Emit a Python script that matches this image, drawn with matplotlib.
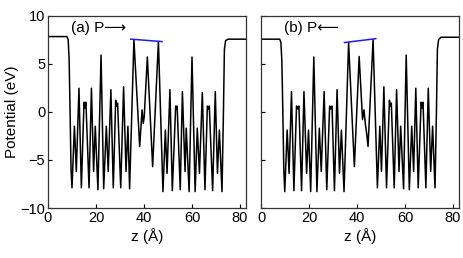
import matplotlib
matplotlib.use("Agg")
import matplotlib.pyplot as plt

plt.rcParams["font.family"] = ["Liberation Sans", "DejaVu Sans"]

# 面板 (a) P→ : z (Å), 势能 (eV)
Z_A = [0, 7.9, 8.4, 8.8, 9.2, 9.6, 10.0, 11.0, 11.8, 12.9, 13.9, 15.0, 15.4, 15.8,
       17.1, 18.1, 19.0, 19.7, 20.8, 22.1, 23.2, 24.3, 25.1, 26.2, 27.2, 28.2, 28.6,
       29.0, 30.3, 31.5, 32.5, 33.3, 34.0, 35.8, 38.2, 39.2, 39.7, 40.1, 41.4, 43.6,
       46.0, 47.9, 48.9, 49.6, 50.8, 51.8, 53.2, 53.5, 53.8, 55.1, 56.0, 57.1, 57.6,
       58.8, 60.0, 61.3, 62.2, 63.1, 64.3, 65.4, 66.4, 66.8, 67.2, 68.6, 69.7, 70.6,
       71.4, 72.5, 73.1, 73.5, 74.0, 75.0, 82.5]
V_A = [7.82, 7.82, 7.5, 5.5, 0, -6, -7.9, -1.5, -6.2, 2.45, -7.9, 1.0, 0.4, 1.0,
       -7.9, 2.45, -6.2, -1.5, -8.1, 5.9, -8.0, -1.5, -6.2, 2.3, -7.9, 1.2, 0.6,
       0.9, -7.9, 2.6, -6.2, -1.5, -8.0, 7.5, -3.6, 0.2, -1.2, -0.5, 5.7, -5.7,
       7.3, -8.3, -1.9, -6.4, 2.3, -8.2, 0.6, 0.3, 0.6, -8.1, 2.1, -6.2, -1.7,
       -8.3, 5.7, -8.3, -1.7, -6.4, 2.0, -8.1, 0.6, 0.3, 0.6, -8.2, 2.1, -6.4,
       -1.9, -8.3, 0, 6.5, 7.4, 7.55, 7.55]

# 面板 (b) P←
Z_B = [0, 7.8, 8.3, 8.7, 9.1, 9.5, 9.9, 10.9, 11.7, 12.7, 13.7, 14.8, 15.3, 15.8,
       16.9, 17.9, 19.0, 19.8, 20.7, 22.0, 23.3, 24.3, 25.1, 26.3, 27.4, 28.6, 29.1,
       29.6, 30.6, 31.7, 32.7, 33.5, 34.6, 36.5, 38.9, 40.9, 42.3, 42.9, 43.5, 44.0,
       44.6, 46.7, 48.5, 49.5, 50.2, 51.2, 52.3, 53.5, 53.9, 54.3, 55.5, 56.5, 57.5,
       58.2, 59.4, 60.5, 61.8, 62.8, 63.6, 64.5, 65.5, 66.7, 67.1, 67.5, 68.7, 69.7,
       70.7, 71.5, 72.5, 73.1, 73.5, 74.0, 75.0, 83.0]
V_B = [7.55, 7.55, 7.2, 5.2, 0, -6, -8.3, -1.9, -6.4, 2.1, -8.2, 0.6, 0.3, 0.6,
       -8.2, 2.1, -6.4, -1.9, -8.3, 5.7, -8.3, -1.7, -6.2, 2.1, -8.1, 0.6, 0.3,
       0.6, -8.2, 2.3, -6.4, -1.9, -8.3, 7.2, -5.7, 5.75, -0.8, 0.2, -1.3, -2.2,
       -3.6, 7.5, -7.9, -1.5, -6.2, 2.6, -7.9, 1.2, 0.6, 0.9, -7.9, 2.3, -6.2,
       -1.5, -8.0, 5.9, -8.1, -1.5, -6.2, 2.45, -7.9, 1.0, 0.4, 1.0, -7.9, 2.45,
       -6.2, -1.5, -7.9, 0, 6.5, 7.5, 7.75, 7.75]

# 蓝色连线(两个高峰顶端)
BLUE_ZA, BLUE_VA = [34.5, 47.5], [7.55, 7.3]
BLUE_ZB, BLUE_VB = [34.8, 47.8], [7.2, 7.6]

LABELS = ["(a) P\u27f6", "(b) P\u27f5"]
XTICKS = [0, 20, 40, 60, 80]
YTICKS = [-10, -5, 0, 5, 10]

fig = plt.figure(figsize=(4.63, 2.58), dpi=100)
ax_a = fig.add_axes([48 / 463, 1 - 208 / 258, 198 / 463, 192.4 / 258])
ax_b = fig.add_axes([261 / 463, 1 - 208 / 258, 198 / 463, 192.4 / 258])

panels = [(ax_a, Z_A, V_A, BLUE_ZA, BLUE_VA, LABELS[0]),
          (ax_b, Z_B, V_B, BLUE_ZB, BLUE_VB, LABELS[1])]
for ax, z, v, bz, bv, lab in panels:
    ax.plot(z, v, color="black", lw=1.1)
    ax.plot(bz, bv, color="#1a1aff", lw=1.1)
    ax.set_xlim(0, 82.5)
    ax.set_ylim(-10, 10)
    ax.set_xticks(XTICKS)
    ax.set_yticks(YTICKS)
    ax.tick_params(direction="in", length=3, width=0.8, labelsize=10.5, pad=2)
    for s in ax.spines.values():
        s.set_linewidth(0.9)
        s.set_color("#333333")
    ax.text(9.5, 8.75, lab, fontsize=11, va="center", ha="left")
    ax.set_xlabel("z (\u00c5)", fontsize=11, labelpad=2)

ax_b.set_yticklabels([])
ax_a.set_ylabel("Potential (eV)", fontsize=11, labelpad=1)

fig.savefig("out.png", dpi=100)
